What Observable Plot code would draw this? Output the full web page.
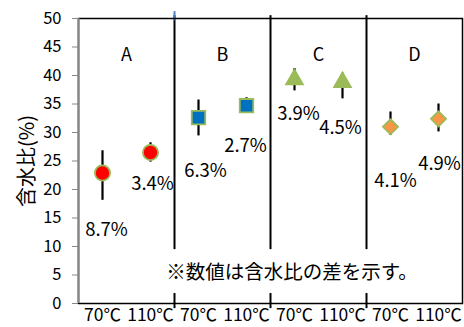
<!DOCTYPE html>
<html>
<head>
<meta charset="utf-8">
<script src="https://cdn.jsdelivr.net/npm/d3@7"></script>
<script src="https://cdn.jsdelivr.net/npm/@observablehq/plot@0.6"></script>
<style>
  html, body { margin: 0; padding: 0; background: #fff; }
  #chart svg { display: block; }
</style>
</head>
<body>
<div id="chart"></div>
<script>
// Drying temperature for each sample, grouped by material A–D
const categories = ["70℃", "110℃", "70℃", "110℃", "70℃", "110℃", "70℃", "110℃"];
const groups = ["A", "B", "C", "D"];
// Mean water content (%) and the min / max of the replicates
const means = [22.9, 26.5, 32.6, 34.7, 39.3, 38.8, 31.0, 32.4];
const lows  = [18.1, 24.8, 29.4, 33.4, 37.3, 35.9, 29.5, 30.1];
const highs = [26.8, 28.2, 35.7, 36.1, 41.2, 40.4, 33.6, 35.0];
// Spread of water content (max − min), printed under each point
const diffs = [8.7, 3.4, 6.3, 2.7, 3.9, 4.5, 4.1, 4.9];
const note = "※数値は含水比の差を示す。";
const yTicks = [0, 5, 10, 15, 20, 25, 30, 35, 40, 45, 50];

// Marker style per group
const groupSymbols = ["circle", "square", "triangle", "diamond2"];
const groupFills = ["#FF0000", "#0070C0", "#9BBB59", "#F79646"];
const groupStrokes = ["#9BBB59", "#9BBB59", "none", "#9BBB59"];
const groupRadius = [7.6, 7.6, 7.4, 6.8];
// Label placement (px) relative to each point
const labelOffsets = [[4, 57], [2, 32], [7, 53], [-1, 40], [4, 35], [-2, 46], [5, 54], [1, 45]];

const rows = means.map((m, i) => ({
  i: i + 1, group: Math.floor(i / 2), mean: m, low: lows[i], high: highs[i], diff: diffs[i]
}));

const font = "'Noto Sans CJK JP', 'Noto Sans', sans-serif";
const xDomain = [0.5, categories.length + 0.5];
const boundaries = [2, 4, 6].map(k => k + 0.5);
const noteBand = {bottom: 1.75, top: 9.45};

const marks = [
  // group dividers, interrupted behind the note
  Plot.ruleX(boundaries, {y1: noteBand.top, y2: 50.5, stroke: "black", strokeWidth: 2}),
  Plot.ruleX(boundaries, {y1: -0.9, y2: noteBand.bottom, stroke: "black", strokeWidth: 2}),
  Plot.ruleX([boundaries[0]], {y1: 49.6, y2: 51.2, stroke: "#4F81BD", strokeWidth: 2}),
  Plot.frame({stroke: "black", strokeWidth: 1.5}),
  Plot.ruleX([xDomain[0]], {stroke: "#868686", strokeWidth: 2}),
  Plot.axisY({ticks: yTicks, tickSize: 6, tickPadding: 11, stroke: "#868686", fill: "black", fontSize: 16.5, label: null}),
  Plot.axisX({ticks: d3.range(1, categories.length + 1), tickFormat: i => categories[i - 1],
              tickSize: 0, tickPadding: 5, fill: "black", fontSize: 17.5, label: null}),
  Plot.text(["含水比(%)"], {frameAnchor: "left", rotate: -90, dx: -51, textAnchor: "middle", fontSize: 20, fill: "black"}),
  Plot.text(groups, {x: (d, k) => 2 * k + 1.5, y: 43.5, fontSize: 18, fill: "black"}),
  Plot.text([note], {x: 4.95, y: 5.4, fontSize: 19.5, fill: "black"}),
  // min–max range bars
  Plot.ruleX(rows, {x: "i", y1: "low", y2: "high", stroke: "black", strokeWidth: 2.2})
];

groups.forEach((g, k) => {
  marks.push(Plot.dot(rows.filter(r => r.group === k), {
    x: "i", y: "mean", symbol: groupSymbols[k], r: groupRadius[k],
    fill: groupFills[k], stroke: groupStrokes[k], strokeWidth: 1.8
  }));
});

rows.forEach((r, k) => {
  marks.push(Plot.text([r], {
    x: "i", y: "mean", text: d => `${d.diff}%`,
    dx: labelOffsets[k][0], dy: labelOffsets[k][1], fontSize: 18.5, fill: "black"
  }));
});

const chart = Plot.plot({
  width: 464,
  height: 327,
  marginLeft: 78,
  marginRight: 2,
  marginTop: 18,
  marginBottom: 24,
  x: {domain: xDomain},
  y: {domain: [0, 50]},
  style: {fontFamily: font, background: "#fff", color: "black", overflow: "visible"},
  marks
});
document.getElementById("chart").appendChild(chart);
</script>
</body>
</html>
